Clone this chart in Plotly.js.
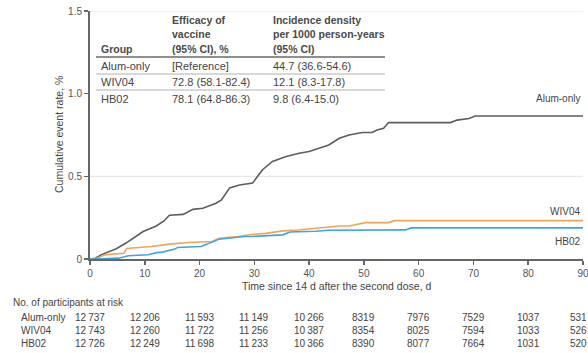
<!DOCTYPE html>
<html>
<head>
<meta charset="utf-8">
<script src="https://cdn.plot.ly/plotly-3.0.1.min.js"></script>
<style>html,body{margin:0;padding:0;background:#fff;}#chart{width:588px;height:353px;}</style>
</head>
<body>
<div id="chart"></div>
<script>
// ---- Data ----
const groups = ["Alum-only", "WIV04", "HB02"];

const alumX = [0, 1, 2, 3.5, 4.8, 6.5, 8.2, 9.7, 12.1, 13.5, 14.5, 17, 18.8, 20.6, 23, 24, 25.5, 27.3, 29.7, 31.5, 33.3, 35.8, 38.2, 40, 41.8, 43.6, 45.5, 47.3, 49.7, 51.5, 52.4, 53.6, 54.5, 65.8, 67, 69.2, 70.3, 90];
const alumY = [0, 0.005, 0.025, 0.045, 0.062, 0.095, 0.13, 0.166, 0.2, 0.23, 0.265, 0.27, 0.30, 0.307, 0.337, 0.357, 0.43, 0.448, 0.46, 0.54, 0.59, 0.62, 0.64, 0.65, 0.67, 0.69, 0.73, 0.75, 0.765, 0.765, 0.78, 0.79, 0.825, 0.825, 0.84, 0.85, 0.865, 0.865];

const wivX = [0, 1, 2.7, 5.2, 6.2, 6.7, 11.2, 14.5, 18, 22.3, 23.6, 27, 29.4, 32, 35.3, 38, 41.3, 43.6, 45.5, 47.3, 48.5, 50.3, 54.5, 55.6, 90];
const wivY = [0, 0, 0.025, 0.03, 0.035, 0.064, 0.076, 0.09, 0.10, 0.106, 0.126, 0.136, 0.148, 0.155, 0.17, 0.175, 0.186, 0.19, 0.2, 0.2, 0.207, 0.22, 0.22, 0.232, 0.232];

const hbX = [0, 1, 5.2, 7, 10.6, 12.4, 13, 15.5, 16, 20.3, 21.4, 22.1, 23.5, 28.2, 29.4, 35.2, 36.5, 41.2, 43.6, 57.6, 58.6, 90];
const hbY = [0, 0, 0.005, 0.02, 0.026, 0.04, 0.04, 0.06, 0.07, 0.076, 0.09, 0.1, 0.12, 0.136, 0.136, 0.146, 0.163, 0.168, 0.174, 0.176, 0.188, 0.188];

const xTicks = [0, 10, 20, 30, 40, 50, 60, 70, 80, 90];
const yTicks = [0, 0.5, 1.0, 1.5];
const yTickText = ["0", "0.5", "1.0", "1.5"];

const riskTimes = [0, 10, 20, 30, 40, 50, 60, 70, 80, 90];
const riskAlum = [12737, 12206, 11593, 11149, 10266, 8319, 7976, 7529, 1037, 531];
const riskWIV = [12743, 12260, 11722, 11256, 10387, 8354, 8025, 7594, 1033, 526];
const riskHB = [12726, 12249, 11698, 11233, 10366, 8390, 8077, 7664, 1031, 520];

const tableHeader = [["Group"], ["Efficacy of", "vaccine", "(95% CI), %"], ["Incidence density", "per 1000 person-years", "(95% CI)"]];
const efficacy = ["[Reference]", "72.8 (58.1-82.4)", "78.1 (64.8-86.3)"];
const incidence = ["44.7 (36.6-54.6)", "12.1 (8.3-17.8)", "9.8 (6.4-15.0)"];

const colors = ["#595e62", "#f1a456", "#3ea6de"];

// ---- Layout helpers (pixel -> paper) ----
const W = 588, H = 353, L = 90, R = 5, T = 11, B = 94;
const PW = W - L - R, PH = H - T - B;
const px = x => (x - L) / PW;
const py = y => (H - B - y) / PH;

const FONT = "Liberation Sans, Arial, sans-serif";
const TXT = "#444";

function fmt(n) {
  const s = String(n);
  return s.length >= 5 ? s.slice(0, s.length - 3) + "\u2009" + s.slice(-3) : s;
}

const traces = [
  {x: alumX, y: alumY, mode: "lines", line: {color: colors[0], width: 1.6}, hoverinfo: "skip"},
  {x: wivX, y: wivY, mode: "lines", line: {color: colors[1], width: 1.6}, hoverinfo: "skip"},
  {x: hbX, y: hbY, mode: "lines", line: {color: colors[2], width: 1.6}, hoverinfo: "skip"}
];

const ann = [];
const shapes = [];

// gridlines
[0.5, 1.5].forEach(v => shapes.push({type: "line", xref: "paper", yref: "y", x0: 0, x1: 1, y0: v, y1: v, line: {color: "#e2e2e2", width: 1}, layer: "below"}));

// axis titles
ann.push({xref: "paper", yref: "paper", x: 0.5, y: py(286), text: "Time since 14 d after the second dose, d", showarrow: false, xanchor: "center", yanchor: "middle", font: {family: FONT, size: 10.5, color: TXT}});
ann.push({xref: "paper", yref: "paper", x: px(59), y: 0.5, text: "Cumulative event rate, %", textangle: -90, showarrow: false, xanchor: "center", yanchor: "middle", font: {family: FONT, size: 10.5, color: TXT}});

// series labels
const labelY = [98, 211, 241];
groups.forEach((g, i) => ann.push({xref: "paper", yref: "paper", x: px(582), y: py(labelY[i]), text: g, showarrow: false, xanchor: "right", yanchor: "middle", font: {family: FONT, size: 10, color: TXT}}));

// inset table
const colX = [99, 170, 271];
const headY = [20, 34, 49];
tableHeader.forEach((lines, c) => {
  const off = 3 - lines.length;
  lines.forEach((t, k) => ann.push({xref: "paper", yref: "paper", x: px(colX[c]), y: py(headY[k + off]), text: "<b>" + t + "</b>", showarrow: false, xanchor: "left", yanchor: "middle", font: {family: FONT, size: 10.5, color: "#4a4a4a"}}));
});
const rowY = [66, 82, 99];
groups.forEach((g, i) => {
  [g, efficacy[i], incidence[i]].forEach((t, c) => ann.push({xref: "paper", yref: "paper", x: px(colX[c]), y: py(rowY[i]), text: t, showarrow: false, xanchor: "left", yanchor: "middle", font: {family: FONT, size: 11, color: TXT}}));
});
shapes.push({type: "line", xref: "paper", yref: "paper", x0: px(96), x1: px(385), y0: py(57), y1: py(57), line: {color: "#6a6a6a", width: 1.5}});
[74, 90].forEach(v => shapes.push({type: "line", xref: "paper", yref: "paper", x0: px(96), x1: px(385), y0: py(v), y1: py(v), line: {color: "#b0b0b0", width: 1}}));

// risk table
ann.push({xref: "paper", yref: "paper", x: px(11), y: py(302), text: "No. of participants at risk", showarrow: false, xanchor: "left", yanchor: "middle", font: {family: FONT, size: 10, color: TXT}});
const riskRows = [riskAlum, riskWIV, riskHB];
const riskY = [317, 330, 343];
groups.forEach((g, i) => {
  ann.push({xref: "paper", yref: "paper", x: px(19), y: py(riskY[i]), text: g, showarrow: false, xanchor: "left", yanchor: "middle", font: {family: FONT, size: 10, color: TXT}});
  riskRows[i].forEach((n, j) => {
    const last = j === riskRows[i].length - 1;
    ann.push({xref: "x", yref: "paper", x: riskTimes[j], y: py(riskY[i]), text: fmt(n), showarrow: false,
              xanchor: "center", xshift: last ? -5 : 0, yanchor: "middle", font: {family: FONT, size: 10, color: TXT}});
  });
});

const layout = {
  width: W, height: H,
  margin: {l: L, r: R, t: T, b: B, pad: 0},
  paper_bgcolor: "#fff", plot_bgcolor: "#fff",
  showlegend: false,
  font: {family: FONT, color: TXT},
  xaxis: {range: [0, 90], tickvals: xTicks, showgrid: false, zeroline: false, showline: true, linecolor: "#666", linewidth: 2,
          ticks: "outside", ticklen: 4, tickwidth: 1.5, tickcolor: "#666", ticklabeloverflow: "allow",
          tickfont: {family: FONT, size: 10, color: "#555"}, fixedrange: true},
  yaxis: {range: [0, 1.5], tickvals: yTicks, ticktext: yTickText, showgrid: false, zeroline: false, showline: true, linecolor: "#666", linewidth: 2,
          ticks: "outside", ticklen: 4, tickwidth: 1.5, tickcolor: "#666", tickfont: {family: FONT, size: 10, color: "#555"}, fixedrange: true},
  annotations: ann,
  shapes: shapes
};

Plotly.newPlot("chart", traces, layout, {staticPlot: true, displayModeBar: false});
</script>
</body>
</html>
